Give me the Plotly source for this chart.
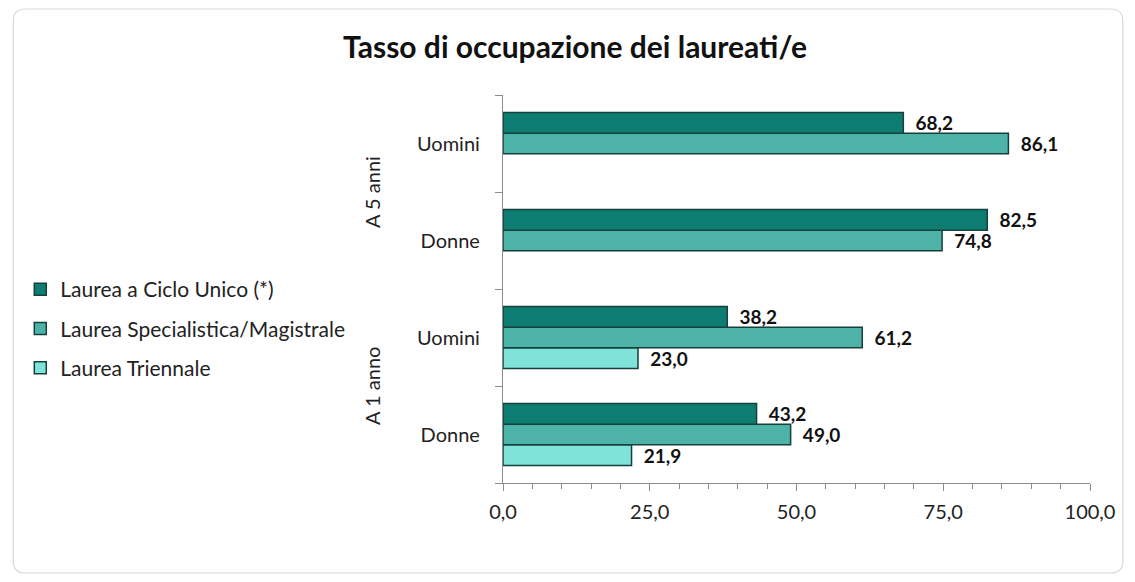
import plotly.graph_objects as go

# ---- data ----
categories = ["A 1 anno|Donne", "A 1 anno|Uomini", "A 5 anni|Donne", "A 5 anni|Uomini"]
cat_labels = ["Donne", "Uomini", "Donne", "Uomini"]
groups = ["A 1 anno", "A 5 anni"]
series_names = ["Laurea Triennale", "Laurea Specialistica/Magistrale", "Laurea a Ciclo Unico (*)"]
triennale = [21.9, 23.0, None, None]
specialistica = [49.0, 61.2, 74.8, 86.1]
ciclo_unico = [43.2, 38.2, 82.5, 68.2]
x_ticks = [0, 25, 50, 75, 100]

colors = ["#7FE3DA", "#4DB3A8", "#0E7D71"]
legend_ranks = [3, 2, 1]
border = "#16403B"

# page body has an 8px margin; work in figure pixels
W, H = 1119, 566
ml, mr, mt, mb = 494, 34, 87, 91
pw, ph = W - ml - mr, H - mt - mb

fig = go.Figure()
for name, vals, col, rk in zip(series_names, [triennale, specialistica, ciclo_unico], colors, legend_ranks):
    fig.add_trace(go.Bar(
        y=categories, x=vals, orientation="h", name=name, legendgroup=name, legendrank=rk,
        marker=dict(color=col, line=dict(color=border, width=1.5)),
        texttemplate="\u00a0\u00a0%{x:.1f}", textposition="outside", cliponaxis=False,
        constraintext="none",
        textfont=dict(family="Lato", size=19, color="#111111", weight="bold"),
    ))


def px2paper_x(px):
    return (px - ml) / pw


def px2paper_y(py):
    return (H - mb - py) / ph


# rounded card border
x0p, x1p, y0p, y1p = 1, 1118, 1, 565
r = 12
pts = [
    f"M {px2paper_x(x0p + r)} {px2paper_y(y0p)}",
    f"L {px2paper_x(x1p - r)} {px2paper_y(y0p)}",
    f"Q {px2paper_x(x1p)} {px2paper_y(y0p)} {px2paper_x(x1p)} {px2paper_y(y0p + r)}",
    f"L {px2paper_x(x1p)} {px2paper_y(y1p - r)}",
    f"Q {px2paper_x(x1p)} {px2paper_y(y1p)} {px2paper_x(x1p - r)} {px2paper_y(y1p)}",
    f"L {px2paper_x(x0p + r)} {px2paper_y(y1p)}",
    f"Q {px2paper_x(x0p)} {px2paper_y(y1p)} {px2paper_x(x0p)} {px2paper_y(y1p - r)}",
    f"L {px2paper_x(x0p)} {px2paper_y(y0p + r)}",
    f"Q {px2paper_x(x0p)} {px2paper_y(y0p)} {px2paper_x(x0p + r)} {px2paper_y(y0p)} Z",
]
fig.add_shape(type="path", path=" ".join(pts), xref="paper", yref="paper",
              line=dict(color="#DADADA", width=1.2), layer="below")

# group labels (rotated)
for i, g in enumerate(groups):
    fig.add_annotation(text=g, xref="paper", yref="paper", x=px2paper_x(362),
                       y=0.25 + 0.5 * i, xanchor="center", yanchor="middle",
                       textangle=-90, showarrow=False,
                       font=dict(family="Lato", size=20, color="#222222"))

fig.update_layout(
    width=W, height=H,
    margin=dict(l=ml, r=mr, t=mt, b=mb),
    paper_bgcolor="white", plot_bgcolor="white",
    separators=",.",
    barmode="group", bargap=0.36, bargroupgap=0,
    title=dict(text="<b>Tasso di occupazione dei laureati/e</b>", x=567 / W,
               xanchor="center", y=1 - 39 / H, yanchor="middle",
               font=dict(family="Lato", size=30, color="#111111")),
    legend=dict(x=px2paper_x(8), y=px2paper_y(261), xanchor="left", yanchor="top",
                traceorder="grouped", tracegroupgap=9,
                font=dict(family="Lato", size=21, color="#222222"),
                bgcolor="rgba(0,0,0,0)"),
    xaxis=dict(range=[0, 100], tickvals=x_ticks, tickformat=".1f",
               showline=True, linecolor="#8C8C8C", linewidth=1.2,
               ticks="outside", ticklen=7, tickcolor="#8C8C8C",
               minor=dict(dtick=5, ticks="outside", ticklen=5, tickcolor="#8C8C8C"),
               showgrid=False, zeroline=False, ticklabelstandoff=4,
               tickfont=dict(family="Lato", size=20, color="#222222")),
    yaxis=dict(type="category", categoryorder="array", categoryarray=categories,
               tickvals=categories, ticktext=cat_labels, tickson="boundaries",
               showline=True, linecolor="#8C8C8C", linewidth=1.2,
               ticks="outside", ticklen=7, tickcolor="#8C8C8C",
               showgrid=False, zeroline=False, ticklabelstandoff=18,
               tickfont=dict(family="Lato", size=20, color="#222222")),
)

fig.write_html("out.html")
